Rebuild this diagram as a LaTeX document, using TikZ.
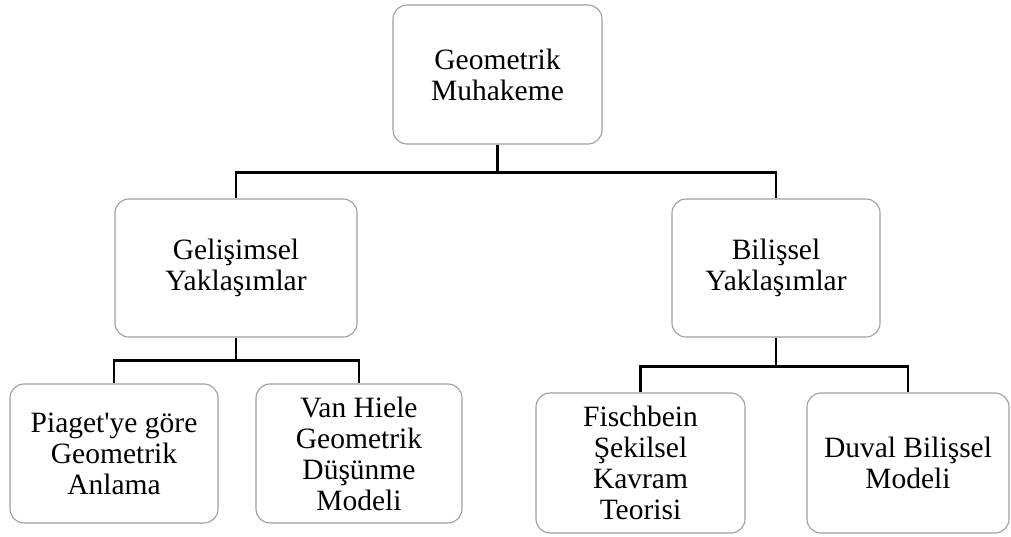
\documentclass[tikz,border=0pt]{standalone}
\usepackage{fontspec}
\setmainfont{Liberation Serif}
\usepackage{tikz}
\usetikzlibrary{positioning}

\begin{document}
\begin{tikzpicture}[
    x=1pt, y=-1pt,
    box/.style={draw=gray!75, line width=1.1pt, rounded corners=14pt,
                fill=white, align=center, inner sep=2pt,
                font=\fontsize{29.5}{31}\selectfont},
    conn/.style={line width=2.8pt, black}
]
\useasboundingbox (0,0) rectangle (1011,536);

% ── Root ──
\node[box, minimum width=209pt, minimum height=139pt] (root) at (497.5,74.5)
    {Geometrik\\Muhakeme};

% ── Approaches ──
\node[box, minimum width=242pt, minimum height=138pt] (gelisim) at (236,268)
    {Gelişimsel\\Yaklaşımlar};
\node[box, minimum width=208pt, minimum height=138pt] (bilis) at (776,268)
    {Bilişsel\\Yaklaşımlar};

% ── Developmental models ──
\node[box, minimum width=208pt, minimum height=139pt] (piaget) at (114,453.5)
    {Piaget\textquotesingle ye göre\\Geometrik\\Anlama};
\node[box, minimum width=206pt, minimum height=139pt] (vanhiele) at (359,453.5)
    {Van Hiele\\Geometrik\\Düşünme\\Modeli};

% ── Cognitive models ──
\node[box, minimum width=209pt, minimum height=140pt] (fischbein) at (640.5,463)
    {Fischbein\\Şekilsel\\Kavram\\Teorisi};
\node[box, minimum width=202pt, minimum height=140pt] (duval) at (908,463)
    {Duval Bilişsel\\Modeli};

% ── Connectors ──
\draw[conn] (root.south) -- ++(0,28) -| (gelisim.north);
\draw[conn] (root.south) -- ++(0,28) -| (bilis.north);
\draw[conn] (gelisim.south) -- ++(0,23) -| (piaget.north);
\draw[conn] (gelisim.south) -- ++(0,23) -| (vanhiele.north);
\draw[conn] (bilis.south) -- ++(0,29) -| (fischbein.north);
\draw[conn] (bilis.south) -- ++(0,29) -| (duval.north);

\end{tikzpicture}
\end{document}
